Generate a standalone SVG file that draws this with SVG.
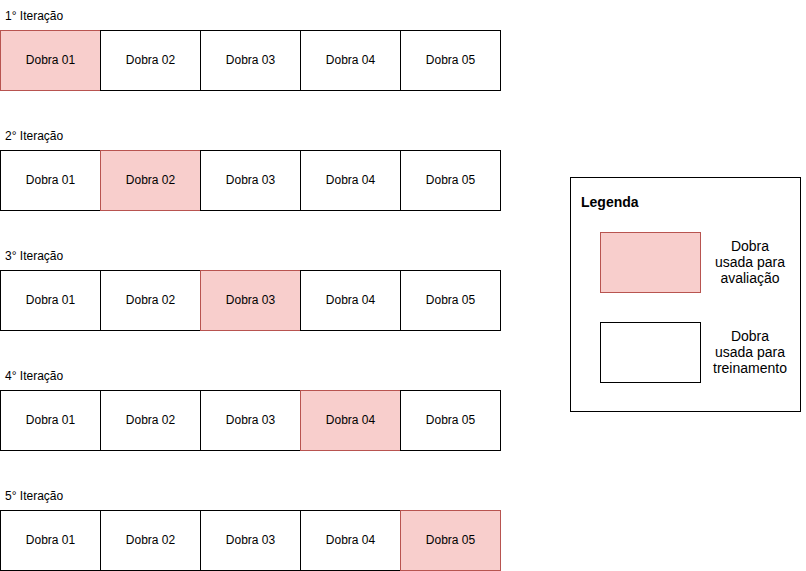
<svg xmlns="http://www.w3.org/2000/svg" width="806" height="571" viewBox="0 0 806 571">
  <style>
    text { font-family: "Liberation Sans", Arial, sans-serif; font-size: 12px; fill: #000; }
    .cell { fill: #ffffff; stroke: #000000; stroke-width: 1; }
    .eval { fill: #f8cecc; stroke: #b85450; stroke-width: 1; }
    .lbl { text-anchor: middle; dominant-baseline: central; }
    .leg { font-size: 14px; text-anchor: middle; }
    .title { font-size: 14px; font-weight: bold; }
  </style>
  <rect width="806" height="571" fill="#ffffff"/>

  <!-- Iteration 1 -->
  <g id="iter1">
    <text x="5" y="20">1° Iteração</text>
    <g id="i1f1"><rect class="eval" x="0.5" y="30.5" width="100" height="60"/><text class="lbl" x="50.5" y="59.5">Dobra 01</text></g>
    <g id="i1f2"><rect class="cell" x="100.5" y="30.5" width="100" height="60"/><text class="lbl" x="150.5" y="59.5">Dobra 02</text></g>
    <g id="i1f3"><rect class="cell" x="200.5" y="30.5" width="100" height="60"/><text class="lbl" x="250.5" y="59.5">Dobra 03</text></g>
    <g id="i1f4"><rect class="cell" x="300.5" y="30.5" width="100" height="60"/><text class="lbl" x="350.5" y="59.5">Dobra 04</text></g>
    <g id="i1f5"><rect class="cell" x="400.5" y="30.5" width="100" height="60"/><text class="lbl" x="450.5" y="59.5">Dobra 05</text></g>
  </g>

  <!-- Iteration 2 -->
  <g id="iter2">
    <text x="5" y="140">2° Iteração</text>
    <g id="i2f1"><rect class="cell" x="0.5" y="150.5" width="100" height="60"/><text class="lbl" x="50.5" y="179.5">Dobra 01</text></g>
    <g id="i2f2"><rect class="eval" x="100.5" y="150.5" width="100" height="60"/><text class="lbl" x="150.5" y="179.5">Dobra 02</text></g>
    <g id="i2f3"><rect class="cell" x="200.5" y="150.5" width="100" height="60"/><text class="lbl" x="250.5" y="179.5">Dobra 03</text></g>
    <g id="i2f4"><rect class="cell" x="300.5" y="150.5" width="100" height="60"/><text class="lbl" x="350.5" y="179.5">Dobra 04</text></g>
    <g id="i2f5"><rect class="cell" x="400.5" y="150.5" width="100" height="60"/><text class="lbl" x="450.5" y="179.5">Dobra 05</text></g>
  </g>

  <!-- Iteration 3 -->
  <g id="iter3">
    <text x="5" y="260">3° Iteração</text>
    <g id="i3f1"><rect class="cell" x="0.5" y="270.5" width="100" height="60"/><text class="lbl" x="50.5" y="299.5">Dobra 01</text></g>
    <g id="i3f2"><rect class="cell" x="100.5" y="270.5" width="100" height="60"/><text class="lbl" x="150.5" y="299.5">Dobra 02</text></g>
    <g id="i3f3"><rect class="eval" x="200.5" y="270.5" width="100" height="60"/><text class="lbl" x="250.5" y="299.5">Dobra 03</text></g>
    <g id="i3f4"><rect class="cell" x="300.5" y="270.5" width="100" height="60"/><text class="lbl" x="350.5" y="299.5">Dobra 04</text></g>
    <g id="i3f5"><rect class="cell" x="400.5" y="270.5" width="100" height="60"/><text class="lbl" x="450.5" y="299.5">Dobra 05</text></g>
  </g>

  <!-- Iteration 4 -->
  <g id="iter4">
    <text x="5" y="380">4° Iteração</text>
    <g id="i4f1"><rect class="cell" x="0.5" y="390.5" width="100" height="60"/><text class="lbl" x="50.5" y="419.5">Dobra 01</text></g>
    <g id="i4f2"><rect class="cell" x="100.5" y="390.5" width="100" height="60"/><text class="lbl" x="150.5" y="419.5">Dobra 02</text></g>
    <g id="i4f3"><rect class="cell" x="200.5" y="390.5" width="100" height="60"/><text class="lbl" x="250.5" y="419.5">Dobra 03</text></g>
    <g id="i4f4"><rect class="eval" x="300.5" y="390.5" width="100" height="60"/><text class="lbl" x="350.5" y="419.5">Dobra 04</text></g>
    <g id="i4f5"><rect class="cell" x="400.5" y="390.5" width="100" height="60"/><text class="lbl" x="450.5" y="419.5">Dobra 05</text></g>
  </g>

  <!-- Iteration 5 -->
  <g id="iter5">
    <text x="5" y="500">5° Iteração</text>
    <g id="i5f1"><rect class="cell" x="0.5" y="510.5" width="100" height="60"/><text class="lbl" x="50.5" y="539.5">Dobra 01</text></g>
    <g id="i5f2"><rect class="cell" x="100.5" y="510.5" width="100" height="60"/><text class="lbl" x="150.5" y="539.5">Dobra 02</text></g>
    <g id="i5f3"><rect class="cell" x="200.5" y="510.5" width="100" height="60"/><text class="lbl" x="250.5" y="539.5">Dobra 03</text></g>
    <g id="i5f4"><rect class="cell" x="300.5" y="510.5" width="100" height="60"/><text class="lbl" x="350.5" y="539.5">Dobra 04</text></g>
    <g id="i5f5"><rect class="eval" x="400.5" y="510.5" width="100" height="60"/><text class="lbl" x="450.5" y="539.5">Dobra 05</text></g>
  </g>

  <!-- Legend -->
  <g id="legend">
    <rect class="cell" x="570.5" y="177.5" width="230" height="234"/>
    <text class="title" x="581" y="207">Legenda</text>
    <rect class="eval" x="600.5" y="232.5" width="100" height="60"/>
    <text class="leg" x="750" y="251">Dobra</text>
    <text class="leg" x="750" y="267">usada para</text>
    <text class="leg" x="750" y="283">avaliação</text>
    <rect class="cell" x="600.5" y="322.5" width="100" height="60"/>
    <text class="leg" x="750" y="341">Dobra</text>
    <text class="leg" x="750" y="357">usada para</text>
    <text class="leg" x="750" y="373">treinamento</text>
  </g>

  <g id="connectors"/>
</svg>
